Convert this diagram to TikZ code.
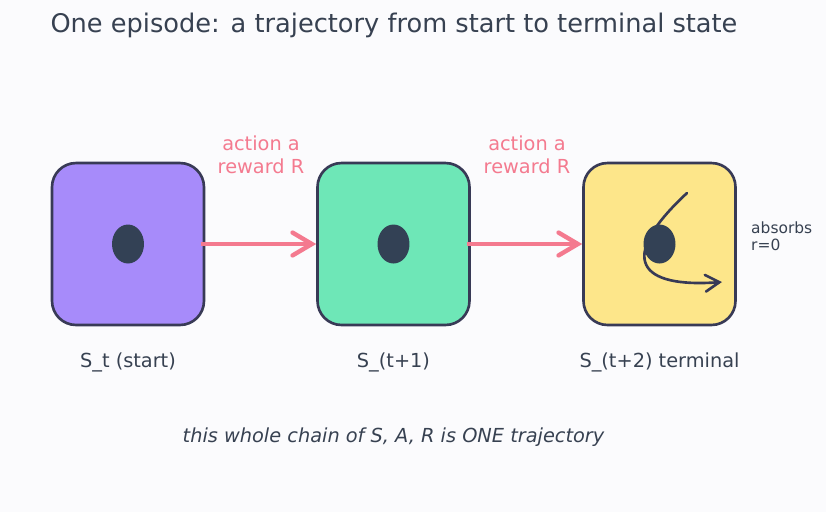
\documentclass[tikz,border=0pt]{standalone}
\usepackage{fontspec}
\setmainfont{DejaVu Sans}
\usetikzlibrary{shapes.geometric, arrows.meta}

\definecolor{bgc}{HTML}{FBFBFD}
\definecolor{ink}{HTML}{374151}
\definecolor{edgec}{HTML}{383A56}
\definecolor{dotc}{HTML}{334155}
\definecolor{rewc}{HTML}{F47A8F}
\definecolor{startc}{HTML}{A78BFA}
\definecolor{midc}{HTML}{6EE7B7}
\definecolor{termc}{HTML}{FDE68A}

\begin{document}
\begin{tikzpicture}[x=0.02cm, y=-0.02cm,
    state/.style={draw=edgec, line width=1.5pt, rounded corners=0.48cm,
        minimum width=3.04cm, minimum height=3.24cm, inner sep=0pt},
    blob/.style={ellipse, fill=dotc, minimum width=0.64cm, minimum height=0.78cm, inner sep=0pt},
    trans/.style={rewc, line width=2.5pt, -{Straight Barb[length=11pt, width=13pt, line cap=round]}},
    lbl/.style={text=ink, font=\fontsize{11}{13}\selectfont}]

        % Background
        \fill[bgc] (0,0) rectangle (826,512);

        % Title
        \node[text=ink, font=\fontsize{14.6}{17}\selectfont] (title) at (394, 25) {One episode: a trajectory from start to terminal state};

        % States
        \node[state, fill=startc] (s1) at (128, 244) {};
        \node[state, fill=midc] (s2) at (393.5, 244) {};
        \node[state, fill=termc] (s3) at (659.5, 244) {};

        % Absorbing loop in the terminal state
        \coordinate (loopA) at (687, 193);
        \coordinate (loopB) at (722, 282);
        \draw[edgec, line width=1.5pt, line cap=round, -{Straight Barb[length=8pt, width=9.5pt, line cap=round]}]
            (loopA) .. controls (615, 260) and (640, 288) .. (loopB);

        % Agent position
        \node[blob] (d1) at (128, 244) {};
        \node[blob] (d2) at (393.5, 244) {};
        \node[blob] (d3) at (659.5, 244) {};

        % Transitions
        \draw[trans] ([xshift=-0.08cm]s1.east) -- (s2.west);
        \draw[trans] ([xshift=-0.08cm]s2.east) -- (s3.west);
        \node[lbl, text=rewc, align=center] (r1) at (261, 155) {action a\\reward R};
        \node[lbl, text=rewc, align=center] (r2) at (527, 155) {action a\\reward R};

        % State names
        \node[lbl] (n1) at (128, 362) {S\_t (start)};
        \node[lbl] (n2) at (393.5, 362) {S\_(t+1)};
        \node[lbl] (n3) at (659.5, 362) {S\_(t+2) terminal};
        \node[anchor=west, align=left, text=ink, font=\fontsize{8.8}{9.6}\selectfont] (abs) at (745, 236) {absorbs\\r=0};

        % Caption
        \node[lbl, font=\fontsize{11}{13}\itshape] (cap) at (393.5, 437) {this whole chain of S, A, R is ONE trajectory};

    \end{tikzpicture}
\end{document}
